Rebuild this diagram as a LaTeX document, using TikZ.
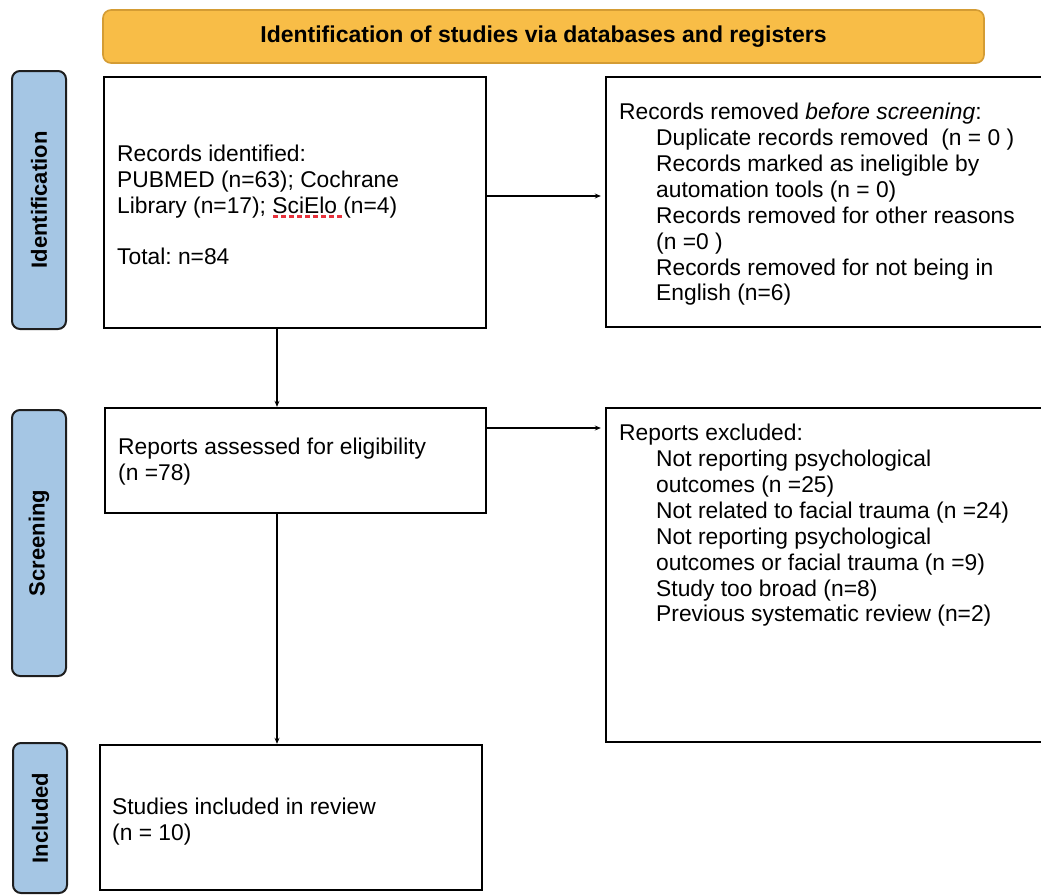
\documentclass[tikz,border=0pt]{standalone}
\usepackage{fontspec}
\setmainfont{Liberation Sans}
\usetikzlibrary{arrows.meta}
\definecolor{bannerfill}{HTML}{F8BD47}
\definecolor{bannerdraw}{HTML}{D49C34}
\definecolor{sidefill}{HTML}{A5C6E4}
\definecolor{sidedraw}{HTML}{1E1E1E}
\definecolor{squig}{HTML}{E8323C}
\frenchspacing
\begin{document}
\begin{tikzpicture}[x=1pt,y=-1pt,
  box/.style={draw=black,line width=2.4pt,inner sep=0pt},
  side/.style={draw=sidedraw,fill=sidefill,line width=2pt,rounded corners=8pt,inner sep=0pt,minimum width=54pt},
  sidetext/.style={rotate=90,font=\fontsize{22}{26}\selectfont\bfseries,inner sep=0pt},
  banner/.style={draw=bannerdraw,fill=bannerfill,line width=1.6pt,rounded corners=8pt,inner sep=0pt,
    font=\fontsize{23}{26}\selectfont\bfseries},
  body/.style={align=left,inner sep=0pt,anchor=west,font=\fontsize{22.8}{25.85}\selectfont\frenchspacing},
  arr/.style={-{Stealth[length=6pt,width=5pt]},line width=1.1pt}]
\useasboundingbox (0,0) rectangle (1041,894);

% banner
\node[banner,minimum width=881pt,minimum height=53pt] (ban) at (543.5,36.5)
  {Identification of studies via databases and registers};

% side labels
\node[side,minimum height=258pt] (s1) at (39,200) {};
\node[sidetext] (s1t) at (s1.center) {Identification};
\node[side,minimum height=266pt] (s2) at (39,543) {};
\node[sidetext] (s2t) at (s2.center) {Screening};
\node[side,minimum height=150pt] (s3) at (40,818) {};
\node[sidetext] (s3t) at (s3.center) {Included};

% boxes
\node[box,minimum width=382pt,minimum height=251pt] (b1) at (295,202.5) {};
\node[box,minimum width=439pt,minimum height=250pt] (b2) at (825.5,202) {};
\node[box,minimum width=381pt,minimum height=105pt] (b3) at (295.5,460.5) {};
\node[box,minimum width=439pt,minimum height=334pt] (b4) at (825.5,575) {};
\node[box,minimum width=382pt,minimum height=145pt] (b5) at (291,817.5) {};

% texts
\node[body] (t1) at (117,205) {Records identified:\\
PUBMED (n=63); Cochrane\\
Library (n=17); SciElo (n=4)\\[25.85pt]
Total: n=84};
\draw[squig,line width=2.6pt,dash pattern=on 5pt off 3pt] (273,216.5) -- (343,216.5);

\node[body] (t2) at (619,204.5) {Records removed \textit{before screening}:\\
\hspace*{37pt}Duplicate records removed\ \ (n = 0 )\\
\hspace*{37pt}Records marked as ineligible by\\
\hspace*{37pt}automation tools (n = 0)\\
\hspace*{37pt}Records removed for other reasons\\
\hspace*{37pt}(n =0 )\\
\hspace*{37pt}Records removed for not being in\\
\hspace*{37pt}English (n=6)};

\node[body] (t3) at (118,461.5) {Reports assessed for eligibility\\(n =78)};

\node[body] (t4) at (619,525.5) {Reports excluded:\\
\hspace*{37pt}Not reporting psychological\\
\hspace*{37pt}outcomes (n =25)\\
\hspace*{37pt}Not related to facial trauma (n =24)\\
\hspace*{37pt}Not reporting psychological\\
\hspace*{37pt}outcomes or facial trauma (n =9)\\
\hspace*{37pt}Study too broad (n=8)\\
\hspace*{37pt}Previous systematic review (n=2)};

\node[body] (t5) at (112,821.5) {Studies included in review\\(n = 10)};

% connectors
\draw[arr,shorten >=4pt] ([yshift=6.5pt]b1.east) -- ([yshift=6.5pt]b1.east -| b2.west);
\draw[arr,shorten >=4pt] ([yshift=32.5pt]b3.east) -- ([yshift=32.5pt]b3.east -| b4.west);
\draw[arr] ([xshift=-18pt]b1.south) -- ([xshift=-18pt]b1.south |- b3.north);
\draw[arr] ([xshift=-18.5pt]b3.south) -- ([xshift=-18.5pt]b3.south |- b5.north);
\end{tikzpicture}
\end{document}
